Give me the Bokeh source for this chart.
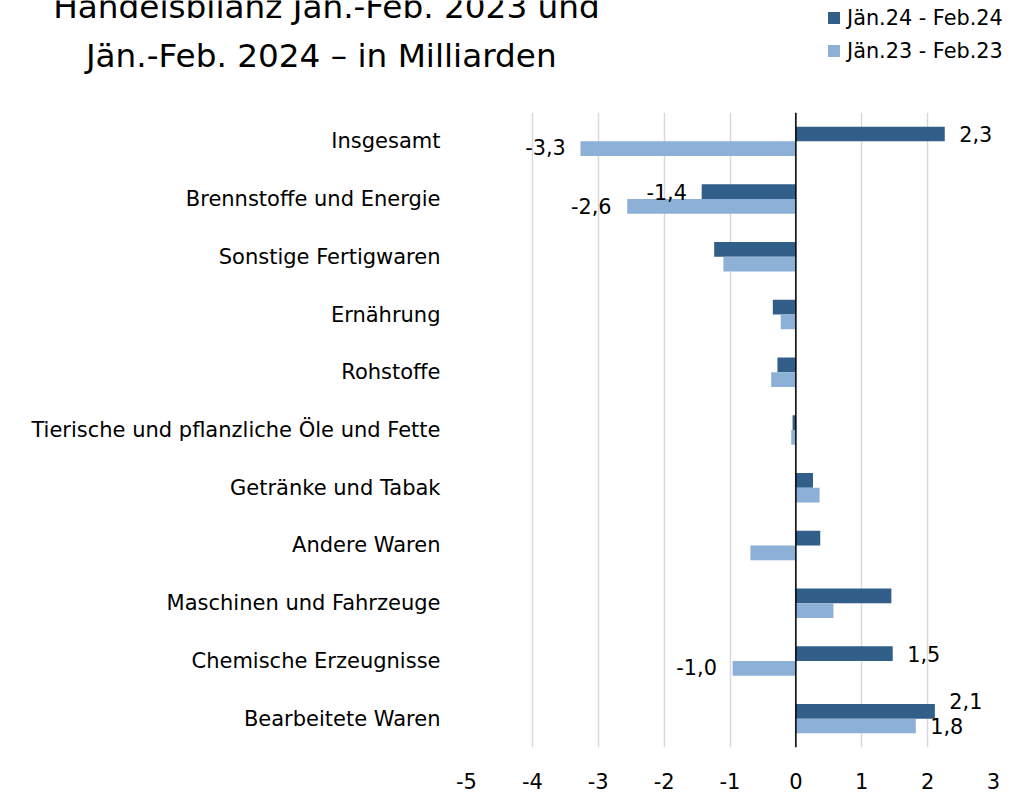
from bokeh.plotting import figure
from bokeh.layouts import column
from bokeh.models import (Range1d, FactorRange, FixedTicker, Span, Label, Legend,
                          LegendItem, ColumnDataSource)
from bokeh.transform import dodge
from bokeh.core.properties import value
from bokeh.embed import file_html
from bokeh.resources import INLINE

# ---------------- data ----------------
categories = ["Insgesamt", "Brennstoffe und Energie", "Sonstige Fertigwaren", "Ernährung",
              "Rohstoffe", "Tierische und pflanzliche Öle und Fette", "Getränke und Tabak",
              "Andere Waren", "Maschinen und Fahrzeuge", "Chemische Erzeugnisse",
              "Bearbeitete Waren"]
jan24_feb24 = [2.26, -1.43, -1.24, -0.35, -0.28, -0.05, 0.26, 0.37, 1.45, 1.47, 2.11]
jan23_feb23 = [-3.27, -2.56, -1.10, -0.23, -0.375, -0.07, 0.36, -0.69, 0.57, -0.96, 1.82]
series_names = ["Jän.24 - Feb.24", "Jän.23 - Feb.23"]
x_ticks = [-5, -4, -3, -2, -1, 0, 1, 2, 3]
x_tick_labels = ["-5", "-4", "-3", "-2", "-1", "0", "1", "2", "3"]
labeled_categories = ["Insgesamt", "Brennstoffe und Energie", "Chemische Erzeugnisse",
                      "Bearbeitete Waren"]
title_lines = ["Handelsbilanz Jän.-Feb. 2023 und", "Jän.-Feb. 2024  – in Milliarden"]

# ---------------- styling ----------------
DARK = "#325E8A"
LIGHT = "#8CB0D6"
FONT = "DejaVu Sans"
W = 1027
TOP_H = 112                      # header strip (title + legend)
F_LEFT, F_RIGHT, F_BOTTOM = 466, 993, 747
BOTTOM_BORDER = 48
BAR_H = 0.255
DODGE = 0.1275
TITLE_Y = (6, 55)
off24 = {"Insgesamt": (31, 0), "Brennstoffe und Energie": (-35, 0),
         "Chemische Erzeugnisse": (31, 0), "Bearbeitete Waren": (31, -10)}
off23 = {"Insgesamt": (-35, -2), "Brennstoffe und Energie": (-36, 0),
         "Chemische Erzeugnisse": (-36, -1), "Bearbeitete Waren": (31, 0)}

def fmt(v):
    return f"{v:.1f}".replace(".", ",")

# ---------------- header (title + legend) ----------------
top = figure(width=W, height=TOP_H, output_backend="svg", toolbar_location=None,
             x_range=Range1d(0, W), y_range=Range1d(TOP_H, 0),
             x_axis_location=None, y_axis_location=None,
             min_border_left=0, min_border_right=0, min_border_top=0, min_border_bottom=0)
top.frame_align = False
top.outline_line_color = None
top.grid.visible = False

for line, base in zip(title_lines, TITLE_Y):
    top.add_layout(Label(x=326, y=base, text=line, text_align="center",
                         text_baseline="alphabetic", text_font=FONT,
                         text_font_size="32.7px", text_color="black"))

# legend key renderers (zero-width, out of view) so the legend can draw its swatches
k24 = top.hbar(y=[-50], left=[0], right=[0], height=1, fill_color=DARK, line_color=None)
k23 = top.hbar(y=[-50], left=[0], right=[0], height=1, fill_color=LIGHT, line_color=None)
legend = Legend(items=[LegendItem(label=series_names[0], renderers=[k24]),
                       LegendItem(label=series_names[1], renderers=[k23])],
                location=(826, 49), orientation="vertical",
                glyph_width=15, glyph_height=15, label_height=25, label_standoff=6,
                label_text_font=FONT, label_text_font_size="20.8px",
                label_text_color="black", spacing=8, padding=0, margin=0,
                border_line_color=None, background_fill_alpha=0)
top.add_layout(legend, "center")

# ---------------- main chart ----------------
src = ColumnDataSource(dict(cat=categories, v24=jan24_feb24, v23=jan23_feb23))

p = figure(width=W, height=F_BOTTOM - TOP_H + BOTTOM_BORDER, output_backend="svg",
           toolbar_location=None,
           x_range=Range1d(x_ticks[0], x_ticks[-1]),
           y_range=FactorRange(factors=list(reversed(categories)), range_padding=0),
           min_border_left=F_LEFT, min_border_right=W - F_RIGHT,
           min_border_top=0, min_border_bottom=BOTTOM_BORDER)
p.frame_align = False
p.outline_line_color = None

r24 = p.hbar(y=dodge("cat", DODGE, range=p.y_range), left=0, right="v24", height=BAR_H,
             source=src, fill_color=DARK, line_color=None)
r23 = p.hbar(y=dodge("cat", -DODGE, range=p.y_range), left=0, right="v23", height=BAR_H,
             source=src, fill_color=LIGHT, line_color=None)

p.add_layout(Span(location=0, dimension="height", line_color="black", line_width=1.5))

def label_source(vals, offs):
    d = dict(cat=[], x=[], txt=[], xo=[], yo=[])
    for c, v in zip(categories, vals):
        if c in labeled_categories:
            d["cat"].append(c); d["x"].append(v); d["txt"].append(fmt(v))
            d["xo"].append(offs[c][0]); d["yo"].append(offs[c][1])
    return ColumnDataSource(d)

for vals, offs, dd in ((jan24_feb24, off24, DODGE), (jan23_feb23, off23, -DODGE)):
    ls = label_source(vals, offs)
    p.text(x="x", y=dodge("cat", dd, range=p.y_range), text="txt", source=ls,
           x_offset="xo", y_offset="yo", text_align="center", text_baseline="middle",
           text_font=value(FONT), text_font_size="20.8px", text_color="black")

for ax in (p.xaxis, p.yaxis):
    ax.axis_line_color = None
    ax.major_tick_line_color = None
    ax.minor_tick_line_color = None
    ax.major_tick_out = 0
    ax.major_tick_in = 0
    ax.minor_tick_out = 0
    ax.major_label_text_font = FONT
    ax.major_label_text_color = "black"

p.xaxis.ticker = FixedTicker(ticks=x_ticks)
p.xaxis.major_label_overrides = {t: s for t, s in zip(x_ticks, x_tick_labels)}
p.xaxis.major_label_text_font_size = "21px"
p.xaxis.major_label_standoff = 25

p.yaxis.major_label_text_font_size = "21px"
p.yaxis.major_label_standoff = 26

p.xgrid.grid_line_color = "#d9d9d9"
p.xgrid.grid_line_width = 1.5
p.ygrid.grid_line_color = None

layout = column(top, p, spacing=0)
open("out.html", "w").write(file_html(layout, INLINE))
